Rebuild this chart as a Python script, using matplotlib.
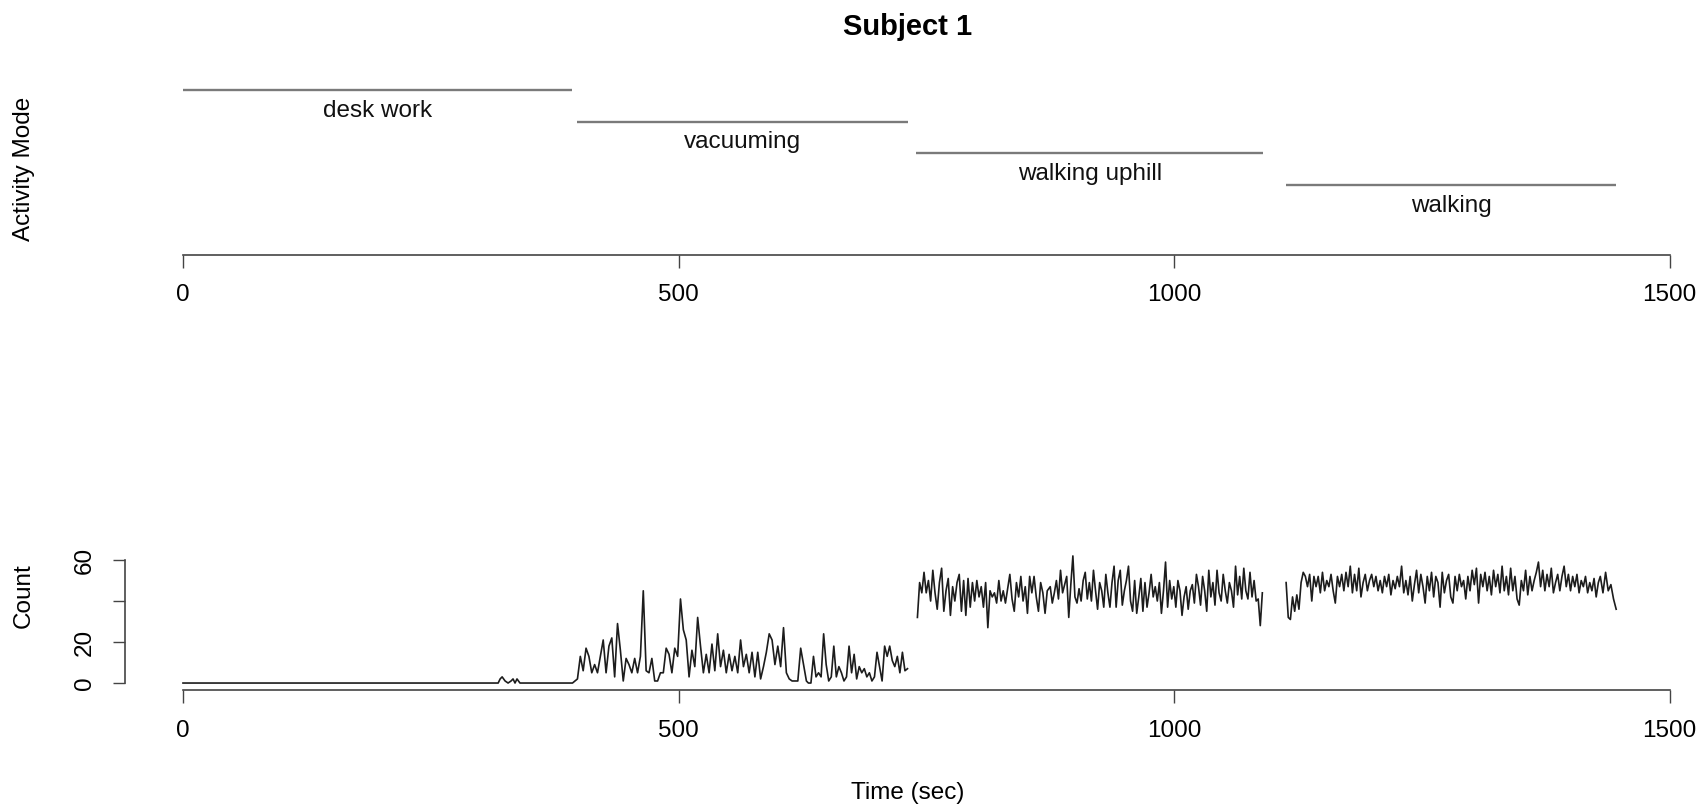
import numpy as np
import matplotlib
matplotlib.use('Agg')
import matplotlib.pyplot as plt

plt.rcParams['font.family'] = ['Liberation Sans', 'DejaVu Sans']

# activity modes (top panel)
modes = ['desk work', 'vacuuming', 'walking uphill', 'walking']
mode_level = [4, 3, 2, 1]
mode_start = [0, 398, 740, 1113]
mode_end = [392, 731, 1090, 1446]

# counts (start sec, end sec, values)
desk_t = [0, 318, 320, 322, 325, 328, 331, 333, 335, 337, 340, 393]
desk_n = [0, 0, 2, 3, 1, 0, 1, 2, 0, 2, 0, 0]

vac_a_span = (398, 629)
vac_a = [2, 13, 6, 17, 13, 5, 9, 5, 13, 21, 5, 18, 22, 3, 29, 16, 1, 12, 9, 5,
         12, 5, 13, 45, 6, 5, 12, 1, 1, 5, 5, 17, 14, 5, 17, 13, 41, 26, 21,
         3, 16, 8, 32, 18, 5, 14, 5, 19, 6, 24, 8, 16, 5, 14, 6, 13, 5, 21, 8,
         14, 5, 15, 3, 15, 2, 8, 15, 24, 21, 9, 18, 8, 27, 5, 2, 1, 1, 1, 17,
         9, 1]
vac_b_span = (631, 731)
vac_b = [0, 0, 13, 3, 5, 3, 24, 9, 1, 3, 18, 3, 8, 5, 1, 3, 18, 5, 14, 2,
         8, 5, 7, 3, 5, 1, 3, 15, 8, 1, 18, 13, 18, 11, 8, 13, 5, 15, 6, 7]

up_a_span = (741, 872)
up_a = [32, 49, 44, 54, 44, 50, 40, 55, 44, 36, 49, 56, 35, 45, 51, 33, 47, 40, 49, 53,
        35, 50, 33, 51, 37, 49, 40, 50, 42, 47, 37, 49, 27, 45, 42, 44, 39, 50, 40, 45,
        39, 46, 53, 41, 35, 49, 42, 52, 40, 47, 34, 52, 44, 52, 42, 35, 49, 44, 34, 45]
up_b_span = (875, 1089)
up_b = [47, 39, 44, 50, 41, 55, 44, 48, 52, 32, 48, 62, 42, 39, 46, 40, 50, 54, 41, 49,
        40, 55, 45, 36, 49, 45, 37, 53, 44, 37, 49, 57, 37, 50, 55, 38, 45, 50, 57, 40,
        35, 50, 34, 42, 51, 35, 49, 37, 44, 53, 42, 47, 40, 49, 34, 45, 59, 37, 50, 41,
        47, 37, 50, 45, 33, 42, 47, 36, 45, 48, 39, 53, 47, 38, 52, 45, 35, 55, 42, 49,
        38, 55, 44, 40, 53, 45, 39, 49, 45, 37, 57, 43, 52, 41, 56, 45, 41, 54, 42, 50,
        40, 41, 28, 44]

walk_a_span = (1113, 1428)
walk_a = [49, 32, 31, 42, 35, 43, 36, 49, 54, 52, 47, 53, 40, 52, 47, 52, 44, 54, 45, 50,
          47, 53, 45, 39, 52, 47, 53, 45, 54, 47, 57, 44, 53, 45, 56, 42, 49, 53, 45, 50,
          53, 47, 52, 45, 50, 44, 52, 47, 53, 43, 50, 46, 52, 47, 57, 44, 50, 43, 52, 40,
          48, 55, 44, 53, 47, 39, 52, 45, 54, 42, 52, 49, 37, 54, 44, 50, 53, 42, 39, 52,
          45, 53, 47, 50, 41, 52, 45, 55, 48, 56, 39, 53, 47, 54, 45, 52, 43, 55, 47, 53,
          44, 57, 45, 52, 43, 56, 45, 52, 41, 38, 50, 45, 55, 43, 52, 45, 50, 54, 59, 47,
          55, 45, 53, 47, 56, 44, 49, 53, 45, 52, 57, 47, 53, 45, 52, 47, 53, 44, 50, 47,
          52, 44, 49, 45, 51, 42, 49]
walk_b_span = (1430, 1446)
walk_b = [52, 44, 54, 45, 48, 41, 36]


def piece(span, vals):
    return np.linspace(span[0], span[1], len(vals)), np.array(vals, dtype=float)

#------------------------------------------------------------------------------
W, H = 1706, 806


def box(l, t, r, b):
    return [l / W, 1 - b / H, (r - l) / W, (b - t) / H]


fig = plt.figure(figsize=(W / 100, H / 100), dpi=100)
ax1 = fig.add_axes(box(125, 84, 1691, 254.5))
ax2 = fig.add_axes(box(125, 502, 1691, 690))

axis_col = '#444444'
line_col = '#1c1c1c'
fs = 17.5
xlim = (-58.5, 1521.5)

# top panel: activity segments
for name, lev, s, e in zip(modes, mode_level, mode_start, mode_end):
    ax1.plot([s, e], [lev, lev], color='#7a7a7a', lw=1.7, solid_capstyle='butt')
    ax1.text((s + e) / 2, lev - 0.84, name, ha='center', va='baseline',
             fontsize=fs, color='#111111')
ax1.set_xlim(*xlim)
ax1.set_ylim(-1.2, 4.2)

# bottom panel: counts
t_desk = np.array(desk_t, dtype=float)
n_desk = np.array(desk_n, dtype=float)
ta, na = piece(vac_a_span, vac_a)
tb, nb = piece(vac_b_span, vac_b)
ax2.plot(np.concatenate([t_desk, ta, tb]), np.concatenate([n_desk, na, nb]),
         color=line_col, lw=1.2)

ta, na = piece(up_a_span, up_a)
tb, nb = piece(up_b_span, up_b)
ax2.plot(np.concatenate([ta, tb]), np.concatenate([na, nb]), color=line_col, lw=1.2)

ta, na = piece(walk_a_span, walk_a)
tb, nb = piece(walk_b_span, walk_b)
ax2.plot(np.concatenate([ta, tb]), np.concatenate([na, nb]), color=line_col, lw=1.2)

ax2.set_xlim(*xlim)
ax2.set_ylim(-3.4, 88.3)

for ax in (ax1, ax2):
    for sp in ['top', 'right', 'left']:
        ax.spines[sp].set_visible(False)
    ax.spines['bottom'].set_bounds(0, 1500)
    ax.spines['bottom'].set_color(axis_col)
    ax.spines['bottom'].set_linewidth(1.2)
    ax.set_xticks([0, 500, 1000, 1500])
    ax.tick_params(axis='x', direction='out', length=9.5, width=1.0, color=axis_col,
                   pad=12, labelsize=fs)
    ax.patch.set_visible(False)

ax1.set_yticks([])

ax2.spines['left'].set_visible(True)
ax2.spines['left'].set_bounds(0, 60)
ax2.spines['left'].set_color(axis_col)
ax2.spines['left'].set_linewidth(1.2)
ax2.set_yticks([0, 20, 40, 60])
ax2.set_yticklabels(['0', '20', '', '60'], rotation=90, va='center')
ax2.tick_params(axis='y', direction='out', length=9, width=1.0, color=axis_col,
                pad=12, labelsize=fs)

fig.text(908 / W, 1 - 27 / H, 'Subject 1', ha='center', va='center',
         fontsize=21, fontweight='bold')
fig.text(24 / W, 1 - 169 / H, 'Activity Mode', rotation=90, ha='center', va='center',
         fontsize=fs)
fig.text(24 / W, 1 - 596 / H, 'Count', rotation=90, ha='center', va='center',
         fontsize=fs)
fig.text(908 / W, 1 - 793 / H, 'Time (sec)', ha='center', va='center', fontsize=fs)

fig.savefig('out.png', dpi=100)
